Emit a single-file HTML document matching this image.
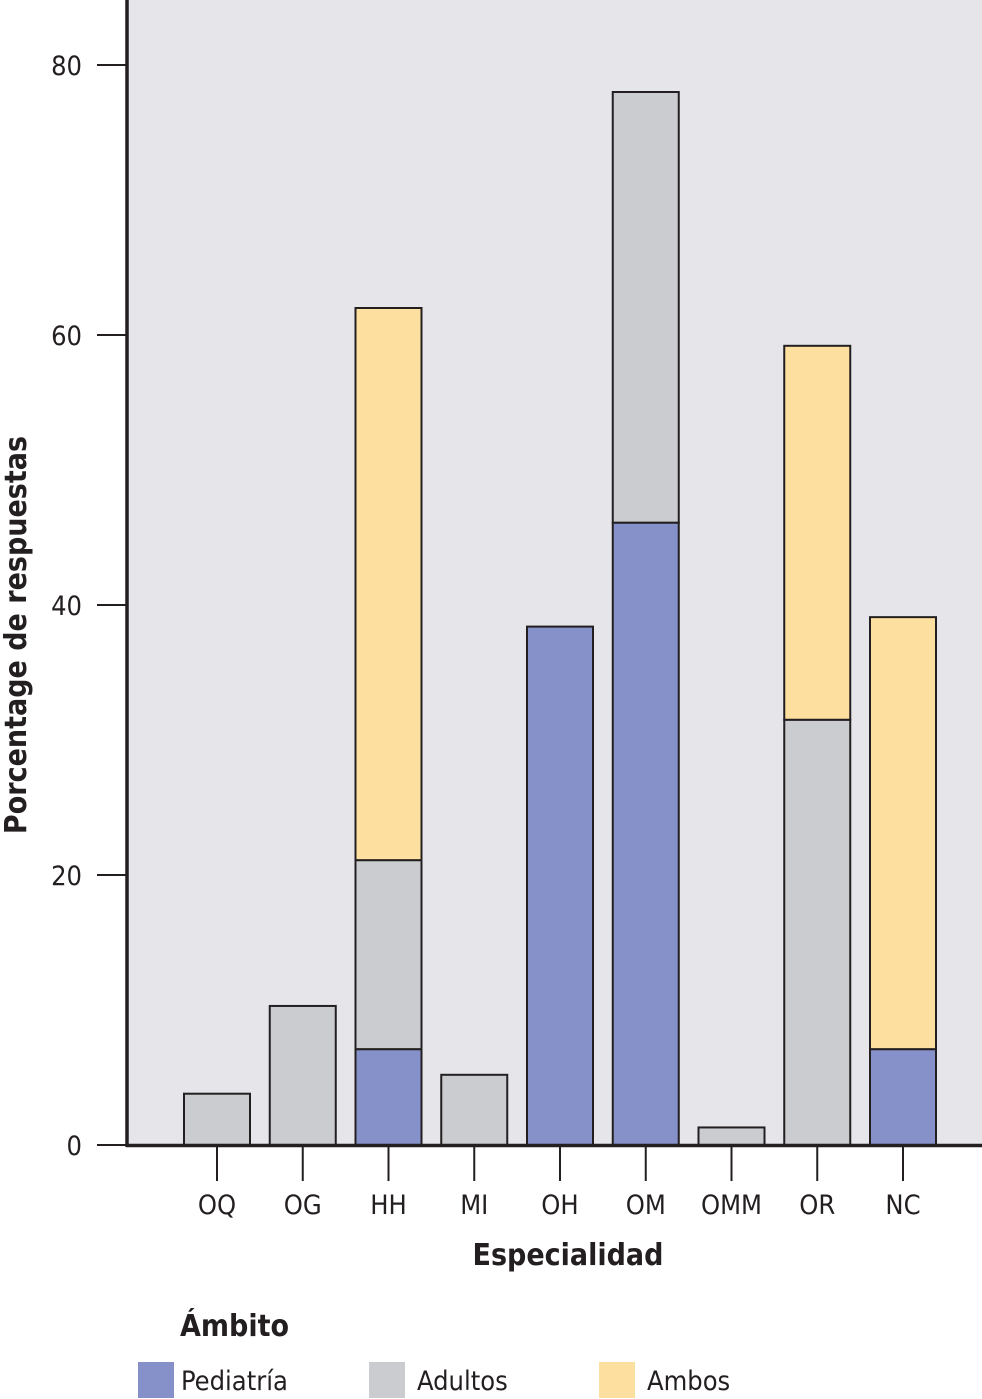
<!DOCTYPE html>
<html><head><meta charset="utf-8"><style>
body{margin:0;background:#fff;}
svg{display:block;font-family:"DejaVu Sans Condensed","Liberation Sans",sans-serif;}
</style></head><body>
<svg id="chart" width="982" height="1399" viewBox="0 0 982 1399">
<rect x="127" y="0" width="855" height="1145" fill="#e6e6ea"/>
<g id="bars"></g>
<g id="axes"></g>
<text x="0" y="0" transform="translate(26,635) rotate(-90)" text-anchor="middle" font-size="30" font-weight="bold" fill="#231f20">Porcentage de respuestas</text>
<text x="568" y="1265" text-anchor="middle" font-size="30" font-weight="bold" fill="#231f20">Especialidad</text>
<g>
<text x="180" y="1336" font-size="30" font-weight="bold" fill="#231f20">Ámbito</text>
<rect x="138" y="1362" width="36" height="36" fill="#8591c8"/>
<text x="181" y="1390" font-size="27" fill="#231f20">Pediatría</text>
<rect x="369" y="1362" width="36" height="36" fill="#cbcccf"/>
<text x="417" y="1390" font-size="27" fill="#231f20">Adultos</text>
<rect x="599" y="1362" width="36" height="36" fill="#fde0a0"/>
<text x="647" y="1390" font-size="27" fill="#231f20">Ambos</text>
</g>
</svg>
<script>
const categories=["OQ","OG","HH","MI","OH","OM","OMM","OR","NC"];
const pediatria=[0,0,7.1,0,38.4,46.1,0,0,7.1];
const adultos=[3.8,10.3,14.0,5.2,0,31.9,1.3,31.5,0];
const ambos=[0,0,40.9,0,0,0,0,27.7,32.0];
const yTicks=[0,20,40,60,80];
const NS="http://www.w3.org/2000/svg";
function y(v){return 1145-v*13.5;}
function xc(i){return 217+i*85.75;}
function mk(tag,attrs,parent){const e=document.createElementNS(NS,tag);for(const k in attrs)e.setAttribute(k,attrs[k]);parent.appendChild(e);return e;}
const bars=document.getElementById('bars'),axes=document.getElementById('axes');
const series=[[pediatria,"#8591c8","pediatria"],[adultos,"#cbcccf","adultos"],[ambos,"#fde0a0","ambos"]];
categories.forEach((c,i)=>{
  let base=0;
  series.forEach(([arr,col,nm])=>{
    const v=arr[i]; if(v<=0)return;
    const r=mk('rect',{x:xc(i)-33,y:y(base+v),width:66,height:v*13.5,fill:col,stroke:"#231f20","stroke-width":2},bars);
    
    
    base+=v;
  });
  const t=mk('line',{x1:xc(i),x2:xc(i),y1:1146,y2:1181,stroke:"#231f20","stroke-width":2},axes);
  
  
  const l=mk('text',{x:xc(i),y:1214,"text-anchor":"middle","font-size":27,fill:"#231f20"},axes);
  l.textContent=c;
  
  
});
yTicks.forEach(v=>{
  const t=mk('line',{x1:97,x2:127,y1:y(v),y2:y(v),stroke:"#231f20","stroke-width":2},axes);
  
  
  const l=mk('text',{x:82,y:y(v)+10,"text-anchor":"end","font-size":27,fill:"#231f20"},axes);
  l.textContent=v;
  
  
});
const ya=mk('line',{x1:127,x2:127,y1:0,y2:1147,stroke:"#231f20","stroke-width":3.5},axes);


const xa=mk('line',{x1:126,x2:982,y1:1145.5,y2:1145.5,stroke:"#231f20","stroke-width":3.5},axes);


</script>
</body></html>
